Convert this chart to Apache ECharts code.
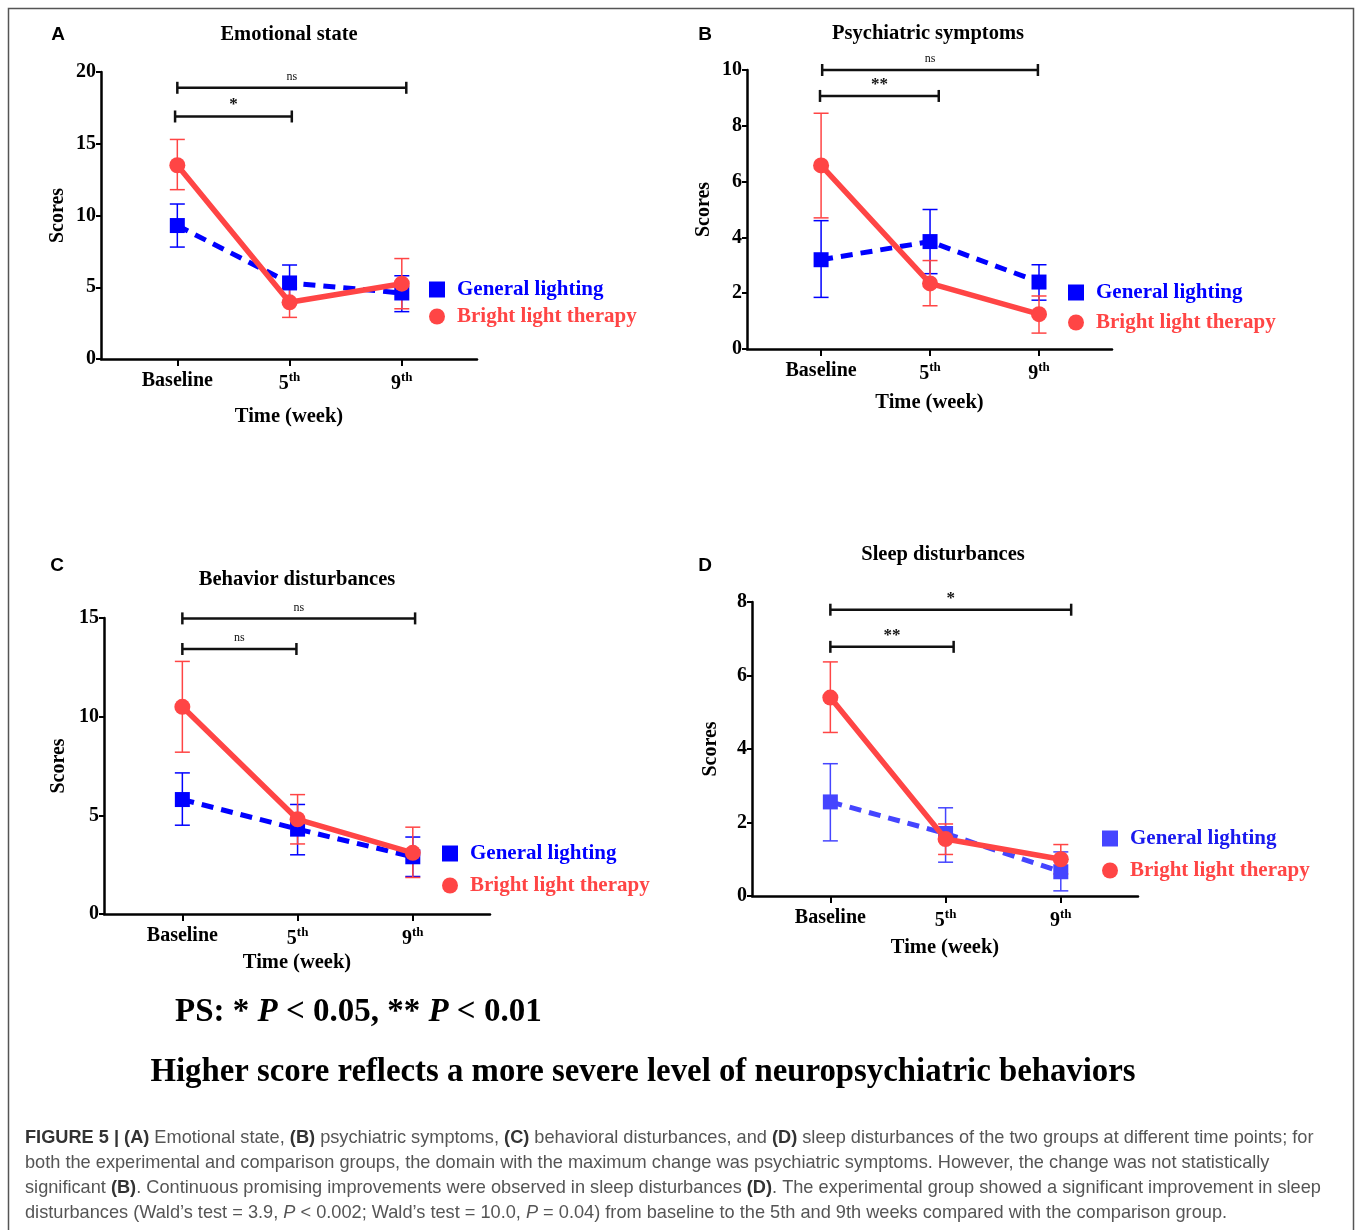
<!DOCTYPE html>
<html>
<head>
<meta charset="utf-8">
<script src="https://cdn.jsdelivr.net/npm/echarts@6/dist/echarts.min.js"></script>
<style>
  html, body { margin: 0; padding: 0; background: #fff; }
  #chart { width: 1358px; height: 1230px; }
</style>
</head>
<body>
<div id="chart"></div>
<script>
// ---- data ----
const timePoints = [0, 1, 2]
const timeLabels = ['Baseline', '5', '9']
const panelLetters = ['A', 'B', 'C', 'D']
const panelTitles = ['Emotional state', 'Psychiatric symptoms', 'Behavior disturbances', 'Sleep disturbances']
const yMax = [20, 10, 15, 8]
const yStep = [5, 2, 5, 2]

// General lighting (mean, lower / upper error bar ends)
const generalMean = [[9.3, 5.3, 4.6], [3.2, 3.85, 2.4], [5.8, 4.3, 2.9], [2.56, 1.7, 0.66]]
const generalLow = [[7.8, 4.0, 3.3], [1.85, 2.7, 1.75], [4.5, 3.0, 1.9], [1.5, 0.92, 0.14]]
const generalHigh = [[10.8, 6.55, 5.8], [4.6, 5.0, 3.02], [7.15, 5.55, 3.9], [3.6, 2.4, 1.2]]

// Bright light therapy
const brightMean = [[13.5, 3.95, 5.25], [6.58, 2.35, 1.25], [10.5, 4.8, 3.1], [5.4, 1.55, 1.0]]
const brightLow = [[11.8, 2.9, 3.5], [4.7, 1.55, 0.57], [8.2, 3.55, 1.85], [4.45, 1.13, 0.6]]
const brightHigh = [[15.3, 4.95, 7.0], [8.45, 3.17, 1.9], [12.8, 6.05, 4.4], [6.37, 1.96, 1.4]]

// significance brackets: [from, to] in time units, height in score units
const bracketFrom = [[0, -0.02], [0.01, -0.01], [0, 0], [0, 0]]
const bracketTo = [[2.04, 1.02], [1.99, 1.08], [2.02, 0.99], [2.09, 1.07]]
const bracketLevel = [[18.9, 16.9], [10.0, 9.07], [14.98, 13.43], [7.79, 6.78]]
const bracketMark = [['ns', '*'], ['ns', '**'], ['ns', 'ns'], ['*', '**']]

// ---- layout ----
const SERIF = '"Liberation Serif", "Times New Roman", serif'
const SANS = '"Liberation Sans", Arial, sans-serif'
const gridBox = [[101, 72, 376, 287], [747, 70, 365, 279], [104, 618, 386, 296], [752, 602, 386, 294]]
const yNameGap = [33, 33, 35, 31]
const xNameGap = [47, 43, 38, 41]
const titlePos = [[289, 35], [928, 34], [297, 580], [943, 555]]
const letterPos = [[58, 35], [705, 35], [57, 566], [705, 566]]
const legendPos = [[429, 279, 6], [1068, 282, 9], [442, 843, 11], [1102, 828, 11]]
const blueCol = ['#0000ff', '#0000ff', '#0000ff', '#4545ff']
const redCol = ['#ff4545', '#ff4545', '#ff4545', '#ff4545']

const chart = echarts.init(document.getElementById('chart'))

const errorBars = (p, low, high, color) => ({
  type: 'custom',
  xAxisIndex: p,
  yAxisIndex: p,
  clip: false,
  z: 3,
  data: timePoints.map((t, i) => [t, low[p][i], high[p][i]]),
  encode: { x: 0, y: [1, 2] },
  renderItem: (params, api) => {
    const top = api.coord([api.value(0), api.value(2)])
    const bot = api.coord([api.value(0), api.value(1)])
    const w = 7.5
    const style = { stroke: color, lineWidth: 1.5 }
    return {
      type: 'group',
      children: [
        { type: 'line', shape: { x1: top[0], y1: top[1], x2: bot[0], y2: bot[1] }, style },
        { type: 'line', shape: { x1: top[0] - w, y1: top[1], x2: top[0] + w, y2: top[1] }, style },
        { type: 'line', shape: { x1: bot[0] - w, y1: bot[1], x2: bot[0] + w, y2: bot[1] }, style }
      ]
    }
  }
})

const brackets = p => ({
  type: 'custom',
  xAxisIndex: p,
  yAxisIndex: p,
  clip: false,
  silent: true,
  data: bracketFrom[p].map((f, i) => [f, bracketTo[p][i], bracketLevel[p][i]]),
  encode: { x: [0, 1], y: 2 },
  renderItem: (params, api) => {
    const a = api.coord([api.value(0), api.value(2)])
    const b = api.coord([api.value(1), api.value(2)])
    const mark = bracketMark[p][params.dataIndex]
    const isNs = mark === 'ns'
    const style = { stroke: '#111', lineWidth: 2.5 }
    return {
      type: 'group',
      children: [
        { type: 'line', shape: { x1: a[0], y1: a[1], x2: b[0], y2: b[1] }, style },
        { type: 'line', shape: { x1: a[0], y1: a[1] - 6, x2: a[0], y2: a[1] + 6 }, style },
        { type: 'line', shape: { x1: b[0], y1: b[1] - 6, x2: b[0], y2: b[1] + 6 }, style },
        {
          type: 'text',
          x: (a[0] + b[0]) / 2,
          y: a[1] - (isNs ? 5 : 3),
          style: {
            text: mark,
            align: 'center',
            verticalAlign: 'bottom',
            fill: '#111',
            font: isNs ? `normal 12px ${SERIF}` : `bold 17px ${SERIF}`
          }
        }
      ]
    }
  }
})

const grids = [], xAxes = [], yAxes = [], series = [], legends = [], titles = []

panelTitles.forEach((name, p) => {
  const [l, t, w, h] = gridBox[p]
  grids.push({ left: l, top: t, width: w, height: h })

  xAxes.push({
    type: 'value',
    gridIndex: p,
    min: -0.68,
    max: 2.67,
    splitLine: { show: false },
    axisLine: { onZero: false, lineStyle: { color: '#000', width: 2.5 } },
    axisTick: { customValues: timePoints, length: 7, lineStyle: { color: '#000', width: 2 } },
    axisLabel: {
      customValues: timePoints,
      margin: 12,
      formatter: v => {
        const i = Math.round(v)
        return i === 0 ? `{n|${timeLabels[i]}}` : `{n|${timeLabels[i]}}{s|th}`
      },
      rich: {
        n: { fontFamily: SERIF, fontWeight: 'bold', fontSize: 20, color: '#000' },
        s: { fontFamily: SERIF, fontWeight: 'bold', fontSize: 13, color: '#000', padding: [0, 0, 12, 0] }
      }
    },
    name: 'Time (week)',
    nameLocation: 'middle',
    nameGap: xNameGap[p],
    nameTextStyle: { fontFamily: SERIF, fontWeight: 'bold', fontSize: 20.5, color: '#000' }
  })

  yAxes.push({
    type: 'value',
    gridIndex: p,
    min: 0,
    max: yMax[p],
    interval: yStep[p],
    splitLine: { show: false },
    axisLine: { show: true, onZero: false, lineStyle: { color: '#000', width: 2.5 } },
    axisTick: { show: true, length: 5, lineStyle: { color: '#000', width: 2 } },
    axisLabel: { margin: 5, fontFamily: SERIF, fontWeight: 'bold', fontSize: 20, color: '#000' },
    name: 'Scores',
    nameLocation: 'middle',
    nameRotate: 90,
    nameGap: yNameGap[p],
    nameTextStyle: { fontFamily: SERIF, fontWeight: 'bold', fontSize: 20, color: '#000' }
  })

  series.push(errorBars(p, generalLow, generalHigh, blueCol[p]))
  series.push(errorBars(p, brightLow, brightHigh, redCol[p]))
  series.push({
    name: 'General lighting',
    type: 'line',
    xAxisIndex: p,
    yAxisIndex: p,
    z: 4,
    data: timePoints.map((t, i) => [t, generalMean[p][i]]),
    symbol: 'rect',
    symbolSize: 15,
    itemStyle: { color: blueCol[p] },
    lineStyle: { color: blueCol[p], width: 5, type: [12, 8] }
  })
  series.push({
    name: 'Bright light therapy',
    type: 'line',
    xAxisIndex: p,
    yAxisIndex: p,
    z: 5,
    data: timePoints.map((t, i) => [t, brightMean[p][i]]),
    symbol: 'circle',
    symbolSize: 16,
    itemStyle: { color: redCol[p] },
    lineStyle: { color: redCol[p], width: 5.5 }
  })
  series.push(brackets(p))

  const [ll, lt, gap] = legendPos[p]
  legends.push({
    orient: 'vertical',
    left: ll,
    top: lt,
    padding: 0,
    itemGap: gap,
    itemWidth: 16,
    itemHeight: 16,
    selectedMode: false,
    textStyle: { fontFamily: SERIF, fontWeight: 'bold', fontSize: 21, padding: [0, 0, 0, 7] },
    data: [
      { name: 'General lighting', icon: 'rect', itemStyle: { color: blueCol[p] }, textStyle: { color: p === 3 ? '#1a1aee' : '#0000ff' } },
      { name: 'Bright light therapy', icon: 'circle', itemStyle: { color: redCol[p] }, textStyle: { color: redCol[p] } }
    ]
  })

  titles.push({
    text: name,
    left: titlePos[p][0],
    top: titlePos[p][1],
    textAlign: 'center',
    textVerticalAlign: 'middle',
    padding: 0,
    textStyle: { fontFamily: SERIF, fontWeight: 'bold', fontSize: 20.5, color: '#000' }
  })
  titles.push({
    text: panelLetters[p],
    left: letterPos[p][0],
    top: letterPos[p][1],
    textAlign: 'center',
    textVerticalAlign: 'middle',
    padding: 0,
    textStyle: { fontFamily: SANS, fontWeight: 'bold', fontSize: 19, color: '#000' }
  })
})

// footer notes
titles.push({
  text: 'PS: * {i|P} < 0.05, ** {i|P} < 0.01',
  left: 175,
  top: 1012,
  textVerticalAlign: 'middle',
  padding: 0,
  textStyle: {
    fontFamily: SERIF, fontWeight: 'bold', fontSize: 33, color: '#000',
    rich: { i: { fontFamily: SERIF, fontWeight: 'bold', fontStyle: 'italic', fontSize: 33, color: '#000' } }
  }
})
titles.push({
  text: 'Higher score reflects a more severe level of neuropsychiatric behaviors',
  left: 643,
  top: 1073,
  textAlign: 'center',
  textVerticalAlign: 'middle',
  padding: 0,
  textStyle: { fontFamily: SERIF, fontWeight: 'bold', fontSize: 32.8, color: '#000' }
})

// caption
const captionLines = [
  '{b|FIGURE 5 | (A)} Emotional state, {b|(B)} psychiatric symptoms, {b|(C)} behavioral disturbances, and {b|(D)} sleep disturbances of the two groups at different time points; for',
  'both the experimental and comparison groups, the domain with the maximum change was psychiatric symptoms. However, the change was not statistically',
  'significant {b|(B)}. Continuous promising improvements were observed in sleep disturbances {b|(D)}. The experimental group showed a significant improvement in sleep',
  'disturbances (Wald\u2019s test = 3.9, {i|P} < 0.002; Wald\u2019s test = 10.0, {i|P} = 0.04) from baseline to the 5th and 9th weeks compared with the comparison group.'
]
captionLines.forEach((line, k) => {
  titles.push({
    text: line,
    left: 25,
    top: 1138 + k * 25,
    textVerticalAlign: 'middle',
    padding: 0,
    textStyle: {
      fontFamily: SANS, fontWeight: 'normal', fontSize: 18.2, color: '#555',
      rich: {
        b: { fontFamily: SANS, fontWeight: 'bold', fontSize: 18.2, color: '#333' },
        i: { fontFamily: SANS, fontStyle: 'italic', fontSize: 18.2, color: '#555' }
      }
    }
  })
})

chart.setOption({
  animation: false,
  backgroundColor: '#fff',
  title: titles,
  legend: legends,
  grid: grids,
  xAxis: xAxes,
  yAxis: yAxes,
  series,
  graphic: [{
    type: 'rect',
    shape: { x: 8.5, y: 8.5, width: 1345, height: 1250 },
    style: { fill: 'none', stroke: '#555', lineWidth: 1.5 },
    silent: true
  }]
})
</script>
</body>
</html>
